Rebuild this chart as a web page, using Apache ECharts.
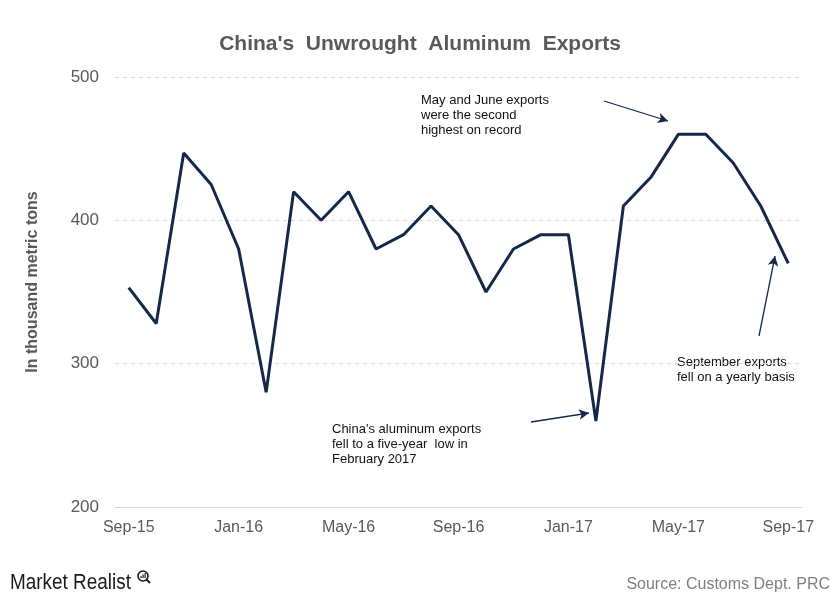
<!DOCTYPE html>
<html>
<head>
<meta charset="utf-8">
<script src="https://cdn.jsdelivr.net/npm/echarts@6/dist/echarts.min.js"></script>
<style>html,body{margin:0;padding:0;background:#fff;}#c{width:840px;height:601px;}</style>
</head>
<body>
<div id="c"></div>
<script>
const categories = ["Sep-15","Oct-15","Nov-15","Dec-15","Jan-16","Feb-16","Mar-16","Apr-16","May-16","Jun-16","Jul-16","Aug-16","Sep-16","Oct-16","Nov-16","Dec-16","Jan-17","Feb-17","Mar-17","Apr-17","May-17","Jun-17","Jul-17","Aug-17","Sep-17"];
const exportsValues = [353,328,447,425,380,280,420,400,420,380,390,410,390,350,380,390,390,260,410,430,460,460,440,410,370];
const yTicks = [200,300,400,500];

const chart = echarts.init(document.getElementById('c'), null, {renderer:'canvas'});
const gray = '#595959';
chart.setOption({
  animation:false,
  backgroundColor:'#fff',
  title:{
    text:"China's  Unwrought  Aluminum  Exports",
    left:'center', top:29,
    textStyle:{fontFamily:'Liberation Sans, Arial', fontSize:21, fontWeight:'bold', color:gray}
  },
  grid:{left:115, right:38, top:77, bottom:94},
  xAxis:{
    type:'category', data:categories, boundaryGap:true,
    axisLine:{lineStyle:{color:'#d9d9d9', width:1}},
    axisTick:{interval:3, length:6, lineStyle:{color:'#d9d9d9'}},
    axisLabel:{interval:3, margin:13, fontFamily:'Liberation Sans, Arial', fontSize:16, color:gray}
  },
  yAxis:{
    type:'value', min:yTicks[0], max:yTicks[yTicks.length-1], interval:100,
    axisLine:{show:false}, axisTick:{show:false},
    axisLabel:{margin:16, fontFamily:'Liberation Sans, Arial', fontSize:17, color:gray},
    splitLine:{lineStyle:{color:'#d9d9d9', type:[4,4], width:1}}
  },
  series:[{
    type:'line', data:exportsValues, symbol:'none',
    lineStyle:{color:'#14294a', width:3}, itemStyle:{color:'#14294a'},
    markLine:{
      silent:true, symbol:['none','arrow'], symbolSize:[8,10],
      label:{show:false},
      lineStyle:{color:'#14294a', width:1.3, type:'solid'},
      data:[
        [{x:604,y:101},{x:668,y:121}],
        [{x:531,y:422},{x:589,y:413}],
        [{x:759,y:336},{x:775,y:256}]
      ]
    }
  }],
  graphic:[
    {type:'text', x:33, y:282, rotation:Math.PI/2, style:{text:'In thousand metric tons', font:'bold 16px "Liberation Sans", Arial', fill:gray, align:'center', verticalAlign:'middle'}},
    {type:'text', left:421, top:93, style:{text:'May and June exports\nwere the second\nhighest on record', font:'13px "Liberation Sans", Arial', fill:'#111', lineHeight:15}},
    {type:'text', left:332, top:422, style:{text:"China's aluminum exports\nfell to a five-year  low in\nFebruary 2017", font:'13px "Liberation Sans", Arial', fill:'#111', lineHeight:15}},
    {type:'text', left:677, top:355, style:{text:'September exports\nfell on a yearly basis', font:'13px "Liberation Sans", Arial', fill:'#111', lineHeight:15}},
    {type:'text', right:10, top:577, style:{text:'Source: Customs Dept. PRC', font:'16px "Liberation Sans", Arial', fill:'#7f7f7f'}},
    {type:'text', x:10, y:583, scaleX:0.86, style:{text:'Market Realist', font:'22px "Liberation Sans", Arial', fill:'#1a1a1a', verticalAlign:'middle'}},
    {type:'circle', shape:{cx:143, cy:576, r:5}, style:{fill:'none', stroke:'#1a1a1a', lineWidth:1.6}},
    {type:'line', shape:{x1:146.5, y1:579.5, x2:150, y2:583}, style:{stroke:'#1a1a1a', lineWidth:2}},
    {type:'rect', shape:{x:140.5, y:576, width:1.2, height:2}, style:{fill:'#1a1a1a'}},
    {type:'rect', shape:{x:142.5, y:574.5, width:1.2, height:3.5}, style:{fill:'#1a1a1a'}},
    {type:'rect', shape:{x:144.5, y:573, width:1.2, height:5}, style:{fill:'#1a1a1a'}}
  ]
});
</script>
</body>
</html>
